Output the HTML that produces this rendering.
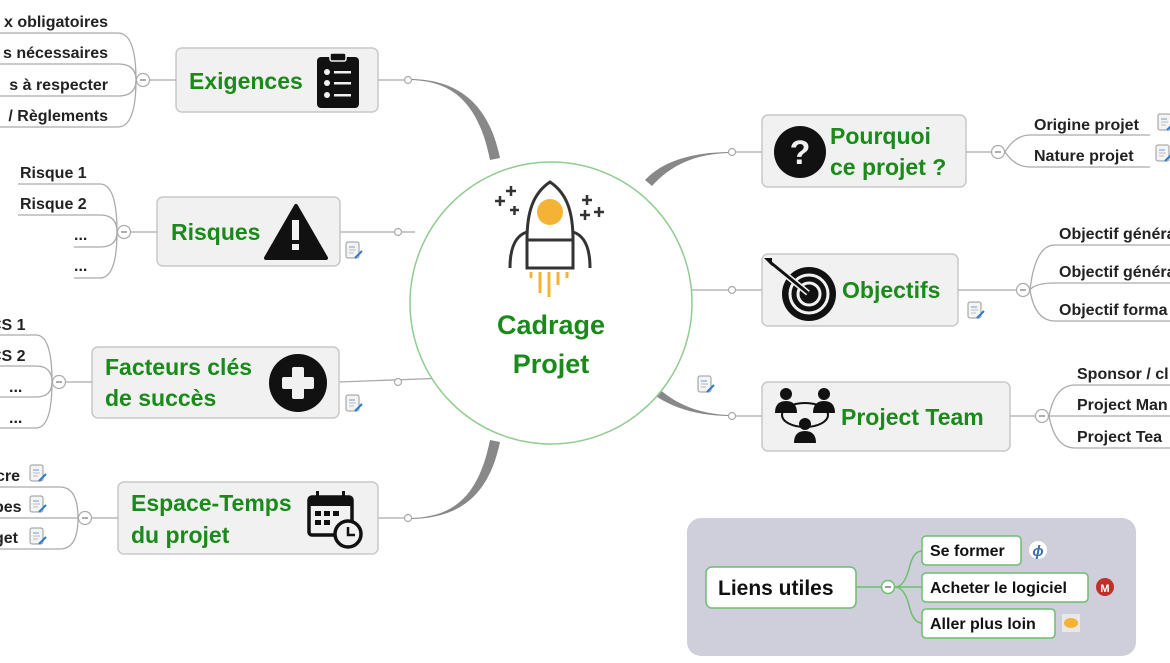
<!DOCTYPE html>
<html><head><meta charset="utf-8"><style>
html,body{margin:0;padding:0;background:#fff;}
svg{display:block;}
text{font-family:"Liberation Sans",sans-serif;font-weight:bold;}
.lf{font-size:16px;fill:#222;}
.mn{font-size:23px;fill:#1a8a1a;}
.box{fill:#f1f1f1;stroke:#c8c8c8;stroke-width:1.5;}
.ln{fill:none;stroke:#aaa;stroke-width:1.3;}
.dot{fill:#fff;stroke:#aaa;stroke-width:1.2;}
</style></head><body>
<svg width="1170" height="663" viewBox="0 0 1170 663" xmlns="http://www.w3.org/2000/svg">
<defs>
<g id="note"><rect x="0" y="0" width="13" height="16" rx="2" fill="#f4f4f4" stroke="#999" stroke-width="1"/><line x1="3" y1="5" x2="9" y2="5" stroke="#6aa0d8"/><line x1="3" y1="8" x2="10" y2="8" stroke="#bbb"/><line x1="3" y1="11" x2="8" y2="11" stroke="#bbb"/><line x1="9" y1="16" x2="16" y2="9" stroke="#2a7bd0" stroke-width="2"/></g>
<g id="col"><circle r="6.5" fill="#fff" stroke="#aaa" stroke-width="1.2"/><line x1="-3" y1="0" x2="3" y2="0" stroke="#777" stroke-width="1.2"/></g>
</defs>

<path d="M408,80 C450,80 478,100 490,160 L500,158 C488,100 455,79 408,79 Z" fill="#888"/>
<path d="M408,518 C450,518 478,500 490,440 L500,442 C488,500 455,519 408,519 Z" fill="#888"/>
<path d="M732,152 C690,152 662,162 645,180 L652,186 C670,166 695,153 732,153 Z" fill="#888"/>
<path d="M732,416 C690,416 662,404 642,385 L650,380 C668,400 695,415 732,415 Z" fill="#888"/>
<line x1="340" y1="232" x2="415" y2="232" class="ln"/>
<line x1="339" y1="382" x2="447" y2="378" class="ln"/>
<line x1="378" y1="80" x2="408" y2="80" class="ln"/>
<line x1="378" y1="518" x2="408" y2="518" class="ln"/>
<line x1="692" y1="290" x2="762" y2="290" class="ln"/>
<line x1="732" y1="152" x2="762" y2="152" class="ln"/>
<line x1="732" y1="416" x2="762" y2="416" class="ln"/>
<circle cx="408" cy="80" r="3.5" class="dot"/>
<circle cx="398" cy="232" r="3.5" class="dot"/>
<circle cx="398" cy="382" r="3.5" class="dot"/>
<circle cx="408" cy="518" r="3.5" class="dot"/>
<circle cx="732" cy="152" r="3.5" class="dot"/>
<circle cx="732" cy="290" r="3.5" class="dot"/>
<circle cx="732" cy="416" r="3.5" class="dot"/>

<circle cx="551" cy="303" r="141" fill="#fff" stroke="#8fcc8f" stroke-width="1.5"/>
<g stroke="#333" stroke-width="3" fill="none">
<path d="M550,182 C532,194 527,214 527,240 L527,268 L573,268 L573,240 C573,214 568,194 550,182 Z" fill="#fff"/>
<line x1="527" y1="240" x2="573" y2="240"/>
<path d="M527,232 C514,236 510,250 510,268"/><path d="M573,232 C586,236 590,250 590,268"/>
<path d="M495,201h10M500,196v10M506,191h10M511,186v10M510,210h9M514.5,206v9M582,200h10M587,195v10M580,215h10M585,210v10M594,212h10M599,207v10" stroke-width="2.5"/>
</g>
<circle cx="550" cy="212" r="13" fill="#f5b335"/>
<g stroke="#f5b335" stroke-width="3"><line x1="531" y1="272" x2="531" y2="278"/><line x1="540" y1="272" x2="540" y2="293"/><line x1="549" y1="272" x2="549" y2="297"/><line x1="558" y1="272" x2="558" y2="285"/><line x1="567" y1="272" x2="567" y2="278"/></g>
<text x="551" y="334" text-anchor="middle" style="font-size:27px;fill:#1a8a1a">Cadrage</text>
<text x="551" y="373" text-anchor="middle" style="font-size:27px;fill:#1a8a1a">Projet</text>

<rect x="176" y="48" width="202" height="64" rx="6" class="box"/>
<text x="189" y="89" class="mn">Exigences</text>
<rect x="317" y="57" width="42" height="51" rx="4" fill="#111"/>
<rect x="330" y="53" width="16" height="8" rx="2" fill="#111" stroke="#f1f1f1" stroke-width="1.5"/>
<g fill="#f1f1f1"><circle cx="327" cy="72" r="3"/><circle cx="327" cy="83" r="3"/><circle cx="327" cy="95" r="3"/><rect x="334" y="71" width="17" height="2.5"/><rect x="334" y="82" width="17" height="2.5"/><rect x="334" y="94" width="17" height="2.5"/></g>
<line x1="150" y1="80" x2="176" y2="80" class="ln"/>
<path class="ln" d="M0,33H118Q136,33 136,80M0,64H118Q136,64 136,80M0,96H118Q136,96 136,80M0,127H118Q136,127 136,80"/>
<use href="#col" x="143" y="80"/>
<text x="108" y="27" class="lf" text-anchor="end">x obligatoires</text>
<text x="108" y="58" class="lf" text-anchor="end">s nécessaires</text>
<text x="108" y="90" class="lf" text-anchor="end">s à respecter</text>
<text x="108" y="121" class="lf" text-anchor="end">/ Règlements</text>

<rect x="157" y="197" width="183" height="69" rx="6" class="box"/>
<text x="171" y="240" class="mn">Risques</text>
<path d="M296,206 L326,258 L266,258 Z" fill="#111" stroke="#111" stroke-width="4" stroke-linejoin="round"/>
<rect x="292" y="220" width="7" height="20" fill="#f1f1f1"/><rect x="292" y="244" width="7" height="6" fill="#f1f1f1"/>
<use href="#note" x="346" y="242"/>
<line x1="131" y1="232" x2="157" y2="232" class="ln"/>
<path class="ln" d="M18,184H100Q117,184 117,232M18,215H100Q117,215 117,232M74,247H100Q117,247 117,232M74,278H100Q117,278 117,232"/>
<use href="#col" x="124" y="232"/>
<text x="20" y="178" class="lf">Risque 1</text>
<text x="20" y="209" class="lf">Risque 2</text>
<text x="74" y="240" class="lf">...</text>
<text x="74" y="271" class="lf">...</text>

<rect x="92" y="347" width="247" height="71" rx="6" class="box"/>
<text x="105" y="375" class="mn">Facteurs clés</text>
<text x="105" y="406" class="mn">de succès</text>
<circle cx="298" cy="383" r="29" fill="#111"/>
<rect x="292" y="367" width="12" height="32" rx="2" fill="#f1f1f1"/><rect x="282" y="377" width="32" height="12" rx="2" fill="#f1f1f1"/>
<use href="#note" x="346" y="395"/>
<line x1="66" y1="382" x2="92" y2="382" class="ln"/>
<path class="ln" d="M0,335H36Q52,335 52,382M0,366H36Q52,366 52,382M0,397H36Q52,397 52,382M0,428H36Q52,428 52,382"/>
<use href="#col" x="59" y="382"/>
<text x="-10" y="330" class="lf">CS 1</text>
<text x="-10" y="361" class="lf">CS 2</text>
<text x="9" y="392" class="lf">...</text>
<text x="9" y="423" class="lf">...</text>

<rect x="118" y="482" width="260" height="72" rx="6" class="box"/>
<text x="131" y="511" class="mn">Espace-Temps</text>
<text x="131" y="543" class="mn">du projet</text>
<rect x="309" y="497" width="43" height="38" rx="3" fill="none" stroke="#111" stroke-width="3.5"/>
<rect x="309" y="497" width="43" height="9" fill="#111"/>
<rect x="316" y="491" width="3" height="9" fill="#111"/><rect x="342" y="491" width="3" height="9" fill="#111"/>
<g fill="#111"><rect x="315" y="511" width="6" height="5"/><rect x="324" y="511" width="6" height="5"/><rect x="333" y="511" width="6" height="5"/><rect x="315" y="520" width="6" height="5"/><rect x="324" y="520" width="6" height="5"/></g>
<circle cx="348" cy="534" r="13" fill="#f1f1f1" stroke="#111" stroke-width="3.5"/>
<path d="M348,527V535H355" fill="none" stroke="#111" stroke-width="2.5"/>
<line x1="92" y1="518" x2="118" y2="518" class="ln"/>
<path class="ln" d="M0,487H60Q78,487 78,518M0,518H78M0,549H60Q78,549 78,518"/>
<use href="#col" x="85" y="518"/>
<text x="-4" y="481" class="lf">cre</text>
<text x="-6" y="512" class="lf">pes</text>
<text x="-6" y="543" class="lf">get</text>
<use href="#note" x="30" y="465"/><use href="#note" x="30" y="496"/><use href="#note" x="30" y="528"/>

<rect x="762" y="115" width="204" height="72" rx="6" class="box"/>
<circle cx="800" cy="152" r="26" fill="#111"/>
<text x="800" y="164" text-anchor="middle" style="font-size:34px;fill:#f1f1f1">?</text>
<text x="830" y="144" class="mn">Pourquoi</text>
<text x="830" y="175" class="mn">ce projet ?</text>
<line x1="966" y1="152" x2="991" y2="152" class="ln"/>
<path class="ln" d="M1005,152Q1015,135 1030,135H1150M1005,152Q1015,167 1030,167H1150"/>
<use href="#col" x="998" y="152"/>
<text x="1034" y="130" class="lf">Origine projet</text>
<text x="1034" y="161" class="lf">Nature projet</text>
<use href="#note" x="1158" y="114"/><use href="#note" x="1156" y="145"/>

<rect x="762" y="254" width="196" height="72" rx="6" class="box"/>
<circle cx="809" cy="294" r="27" fill="#111"/>
<circle cx="809" cy="294" r="19" fill="none" stroke="#f1f1f1" stroke-width="3"/>
<circle cx="809" cy="294" r="11" fill="none" stroke="#f1f1f1" stroke-width="3"/>
<line x1="770" y1="262" x2="808" y2="293" stroke="#f1f1f1" stroke-width="6"/>
<line x1="770" y1="262" x2="808" y2="293" stroke="#111" stroke-width="3"/>
<path d="M764,258 l8,0 l0,8 z" fill="#111"/>
<text x="842" y="298" class="mn">Objectifs</text>
<use href="#note" x="968" y="302"/>
<line x1="958" y1="290" x2="1016" y2="290" class="ln"/>
<path class="ln" d="M1030,290Q1035,245 1055,245H1170M1030,290Q1035,283 1055,283H1170M1030,290Q1035,321 1055,321H1170"/>
<use href="#col" x="1023" y="290"/>
<text x="1059" y="239" class="lf">Objectif généra</text>
<text x="1059" y="277" class="lf">Objectif généra</text>
<text x="1059" y="315" class="lf">Objectif forma</text>

<rect x="762" y="382" width="248" height="69" rx="6" class="box"/>
<g fill="#111">
<circle cx="786" cy="394" r="6"/><path d="M775,413 q0,-12 11,-12 q11,0 11,12z"/>
<circle cx="824" cy="394" r="6"/><path d="M813,413 q0,-12 11,-12 q11,0 11,12z"/>
<circle cx="805" cy="424" r="6"/><path d="M794,443 q0,-12 11,-12 q11,0 11,12z"/>
</g>
<ellipse cx="805" cy="415" rx="23" ry="12" fill="none" stroke="#111" stroke-width="2"/>
<text x="841" y="425" class="mn">Project Team</text>
<use href="#note" x="698" y="376"/>
<line x1="1010" y1="416" x2="1035" y2="416" class="ln"/>
<path class="ln" d="M1049,416Q1055,385 1075,385H1170M1049,416Q1055,416 1075,416H1170M1049,416Q1055,448 1075,448H1170"/>
<use href="#col" x="1042" y="416"/>
<text x="1077" y="379" class="lf">Sponsor / cl</text>
<text x="1077" y="410" class="lf">Project Man</text>
<text x="1077" y="442" class="lf">Project Tea</text>

<rect x="687" y="518" width="449" height="138" rx="14" fill="#cfcfdb"/>
<path d="M856,587H882M895,587Q905,587 910,565Q914,551 922,551M895,587H922M895,587Q905,587 910,609Q914,623 922,623" fill="none" stroke="#6cbf6c" stroke-width="1.5"/>
<circle cx="888" cy="587" r="6.5" fill="#fff" stroke="#6cbf6c" stroke-width="1.5"/><line x1="885" y1="587" x2="891" y2="587" stroke="#555" stroke-width="1.2"/>
<rect x="706" y="567" width="150" height="41" rx="6" fill="#fff" stroke="#6cbf6c" stroke-width="1.5"/>
<text x="718" y="595" style="font-size:21px;fill:#111">Liens utiles</text>
<rect x="922" y="536" width="99" height="29" rx="4" fill="#fff" stroke="#6cbf6c" stroke-width="1.5"/>
<text x="930" y="556" class="lf" style="fill:#111">Se former</text>
<rect x="922" y="573" width="166" height="29" rx="4" fill="#fff" stroke="#6cbf6c" stroke-width="1.5"/>
<text x="930" y="593" class="lf" style="fill:#111">Acheter le logiciel</text>
<rect x="922" y="609" width="133" height="29" rx="4" fill="#fff" stroke="#6cbf6c" stroke-width="1.5"/>
<text x="930" y="629" class="lf" style="fill:#111">Aller plus loin</text>
<circle cx="1038" cy="550" r="9" fill="#fff"/><text x="1038" y="556" text-anchor="middle" style="font-size:15px;fill:#3a6fb5;font-style:italic">ϕ</text>
<circle cx="1105" cy="587" r="9" fill="#c0302a"/><text x="1105" y="592" text-anchor="middle" style="font-size:11px;fill:#fff">M</text>
<rect x="1062" y="614" width="18" height="18" fill="#e8e8e8"/><ellipse cx="1071" cy="623" rx="7" ry="5" fill="#f5b335"/>
</svg>
</body></html>
